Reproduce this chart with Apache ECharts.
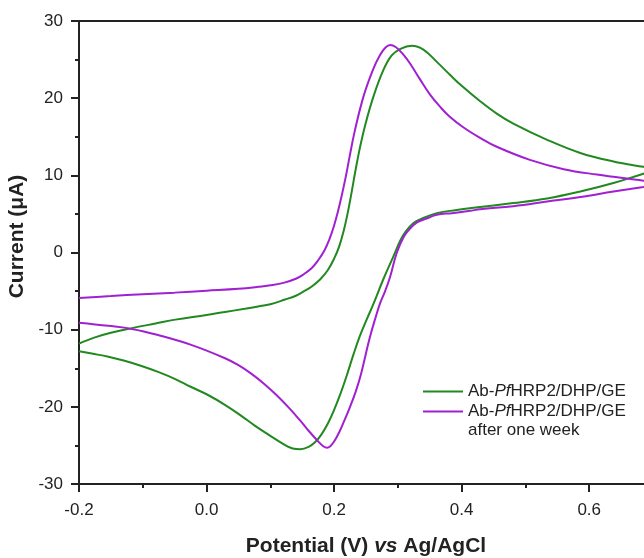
<!DOCTYPE html>
<html>
<head>
<meta charset="utf-8">
<script src="https://cdn.jsdelivr.net/npm/echarts@6/dist/echarts.min.js"></script>
<style>
  html, body { margin: 0; padding: 0; background: #fff; }
  #chart { width: 644px; height: 558px; }
</style>
</head>
<body>
<div id="chart"></div>
<script>
// cyclic voltammograms, [potential V, current uA], forward scan then reverse
const freshCV = [
  [-0.2,-11.8],[-0.175,-11.0],[-0.15,-10.4],[-0.117,-9.8],[-0.08,-9.2],[-0.049,-8.7],[0.0,-8.1],[0.029,-7.7],
  [0.06,-7.3],[0.081,-7.0],[0.1,-6.7],[0.123,-6.1],[0.140,-5.6],[0.151,-5.1],[0.165,-4.4],[0.178,-3.5],
  [0.190,-2.3],[0.200,-0.8],[0.208,0.8],[0.215,2.8],[0.221,5.0],[0.227,7.6],[0.233,10.4],[0.240,13.4],
  [0.249,16.6],[0.262,20.3],[0.277,23.6],[0.290,25.5],[0.304,26.4],[0.322,26.8],[0.340,26.3],[0.361,24.7],
  [0.382,23.0],[0.400,21.6],[0.429,19.6],[0.455,18.0],[0.481,16.7],[0.534,14.6],[0.586,12.9],[0.638,11.8],
  [0.685,11.1],[0.70,10.9],
  [0.70,10.5],[0.685,10.2],[0.638,9.0],[0.586,7.9],[0.534,7.0],[0.481,6.4],[0.429,5.9],[0.392,5.5],
  [0.361,5.1],[0.335,4.3],[0.324,3.8],[0.313,2.8],[0.304,1.6],[0.293,-0.5],[0.277,-3.5],[0.262,-6.6],
  [0.251,-8.7],[0.240,-10.9],[0.230,-13.3],[0.220,-15.9],[0.210,-18.3],[0.200,-20.4],[0.190,-22.2],
  [0.180,-23.6],[0.170,-24.6],[0.160,-25.2],[0.147,-25.5],[0.135,-25.4],[0.120,-24.8],[0.097,-23.6],
  [0.075,-22.4],[0.055,-21.2],[0.030,-19.8],[0.003,-18.5],[-0.025,-17.4],[-0.049,-16.4],[-0.075,-15.5],
  [-0.102,-14.7],[-0.13,-14.0],[-0.154,-13.5],[-0.18,-13.1],[-0.2,-12.8]
];
const weekCV = [
  [-0.2,-5.9],[-0.15,-5.65],[-0.1,-5.4],[-0.05,-5.2],[0.0,-4.95],[0.05,-4.7],[0.081,-4.45],[0.1,-4.25],
  [0.122,-3.9],[0.140,-3.4],[0.151,-2.9],[0.165,-2.0],[0.175,-1.0],[0.185,0.3],[0.193,1.8],[0.200,3.5],
  [0.206,5.3],[0.212,7.4],[0.218,9.7],[0.224,12.3],[0.232,15.6],[0.246,20.2],[0.261,23.7],[0.272,25.6],
  [0.281,26.6],[0.288,26.9],[0.297,26.6],[0.307,25.8],[0.319,24.5],[0.335,22.4],[0.351,20.4],[0.366,18.9],
  [0.380,17.7],[0.403,16.2],[0.430,14.8],[0.455,13.7],[0.507,12.0],[0.560,10.8],[0.612,10.1],[0.685,9.3],
  [0.70,9.1],
  [0.70,8.7],[0.685,8.5],[0.638,7.9],[0.586,7.2],[0.534,6.6],[0.481,6.0],[0.429,5.6],[0.413,5.4],
  [0.385,5.1],[0.361,4.9],[0.345,4.4],[0.330,3.9],[0.318,3.0],[0.309,2.0],[0.298,-0.1],[0.288,-3.1],
  [0.280,-5.0],[0.272,-6.6],[0.264,-8.7],[0.256,-11.0],[0.249,-13.4],[0.242,-15.8],[0.234,-18.0],
  [0.225,-20.0],[0.216,-21.8],[0.208,-23.3],[0.200,-24.5],[0.194,-25.1],[0.189,-25.3],[0.183,-25.1],
  [0.173,-24.3],[0.160,-23.1],[0.147,-21.8],[0.130,-20.2],[0.110,-18.5],[0.090,-17.0],[0.070,-15.7],
  [0.050,-14.6],[0.029,-13.7],[-0.023,-12.0],[-0.076,-10.7],[-0.117,-9.9],[-0.154,-9.5],[-0.2,-9.1]
];
const seriesNames = ['Ab-PfHRP2/DHP/GE', 'Ab-PfHRP2/DHP/GE after one week'];
const seriesColors = ['#21891f', '#a020d2'];

const font = 'Arial, "Liberation Sans", sans-serif';
const ink = '#222';

const chart = echarts.init(document.getElementById('chart'));

const axisCommon = {
  axisLine: { show: true, onZero: false, lineStyle: { color: ink, width: 2 } },
  axisTick: { show: true, length: 8, lineStyle: { color: ink, width: 2 } },
  minorTick: { show: true, splitNumber: 2, length: 4, lineStyle: { color: ink, width: 2 } },
  splitLine: { show: false },
  axisLabel: { color: ink, fontSize: 17, fontFamily: font, margin: 18 }
};

const option = {
  animation: false,
  backgroundColor: '#fff',
  grid: {
    left: 79, top: 21, width: 574, height: 463,
    outerBoundsMode: 'none', containLabel: false,
    show: true, borderColor: ink, borderWidth: 2
  },
  xAxis: Object.assign({}, axisCommon, {
    type: 'value', min: -0.2, max: 0.7, interval: 0.2,
    axisLabel: Object.assign({}, axisCommon.axisLabel, {
      formatter: v => (v > 0.65 ? '' : v.toFixed(1))
    }),
    name: 'Potential (V) {i|vs} Ag/AgCl',
    nameLocation: 'middle', nameGap: 52,
    nameTextStyle: {
      fontSize: 21, fontWeight: 'bold', color: ink, fontFamily: font,
      rich: { i: { fontSize: 21, fontWeight: 'bold', fontStyle: 'italic', color: ink, fontFamily: font } }
    }
  }),
  yAxis: Object.assign({}, axisCommon, {
    type: 'value', min: -30, max: 30, interval: 10,
    axisLabel: Object.assign({}, axisCommon.axisLabel, { margin: 16 }),
    name: 'Current (μA)',
    nameLocation: 'middle', nameGap: 47,
    nameTextStyle: { fontSize: 21, fontWeight: 'bold', color: ink, fontFamily: font, padding: [0, 0, 0, 32] }
  }),
  legend: {
    orient: 'vertical', left: 423, top: 382, padding: 0,
    icon: 'rect', itemWidth: 40, itemHeight: 2, itemGap: 1, itemTextGap: 5,
    data: seriesNames,
    formatter: () => 'Ab-{i|Pf}HRP2/DHP/GE',
    textStyle: {
      fontSize: 17, color: ink, fontFamily: font, lineHeight: 19,
      rich: { i: { fontSize: 17, fontStyle: 'italic', color: ink, fontFamily: font, lineHeight: 19 } }
    }
  },
  graphic: [{
    type: 'text', left: 468, top: 422,
    style: { text: 'after one week', fontSize: 17, fill: ink, fontFamily: font }
  }],
  series: [
    { name: seriesNames[0], type: 'line', data: freshCV, symbol: 'none', smooth: 0.4,
      lineStyle: { color: seriesColors[0], width: 2 }, itemStyle: { color: seriesColors[0] } },
    { name: seriesNames[1], type: 'line', data: weekCV, symbol: 'none', smooth: 0.4,
      lineStyle: { color: seriesColors[1], width: 2 }, itemStyle: { color: seriesColors[1] } }
  ]
};

chart.setOption(option);
</script>
</body>
</html>
